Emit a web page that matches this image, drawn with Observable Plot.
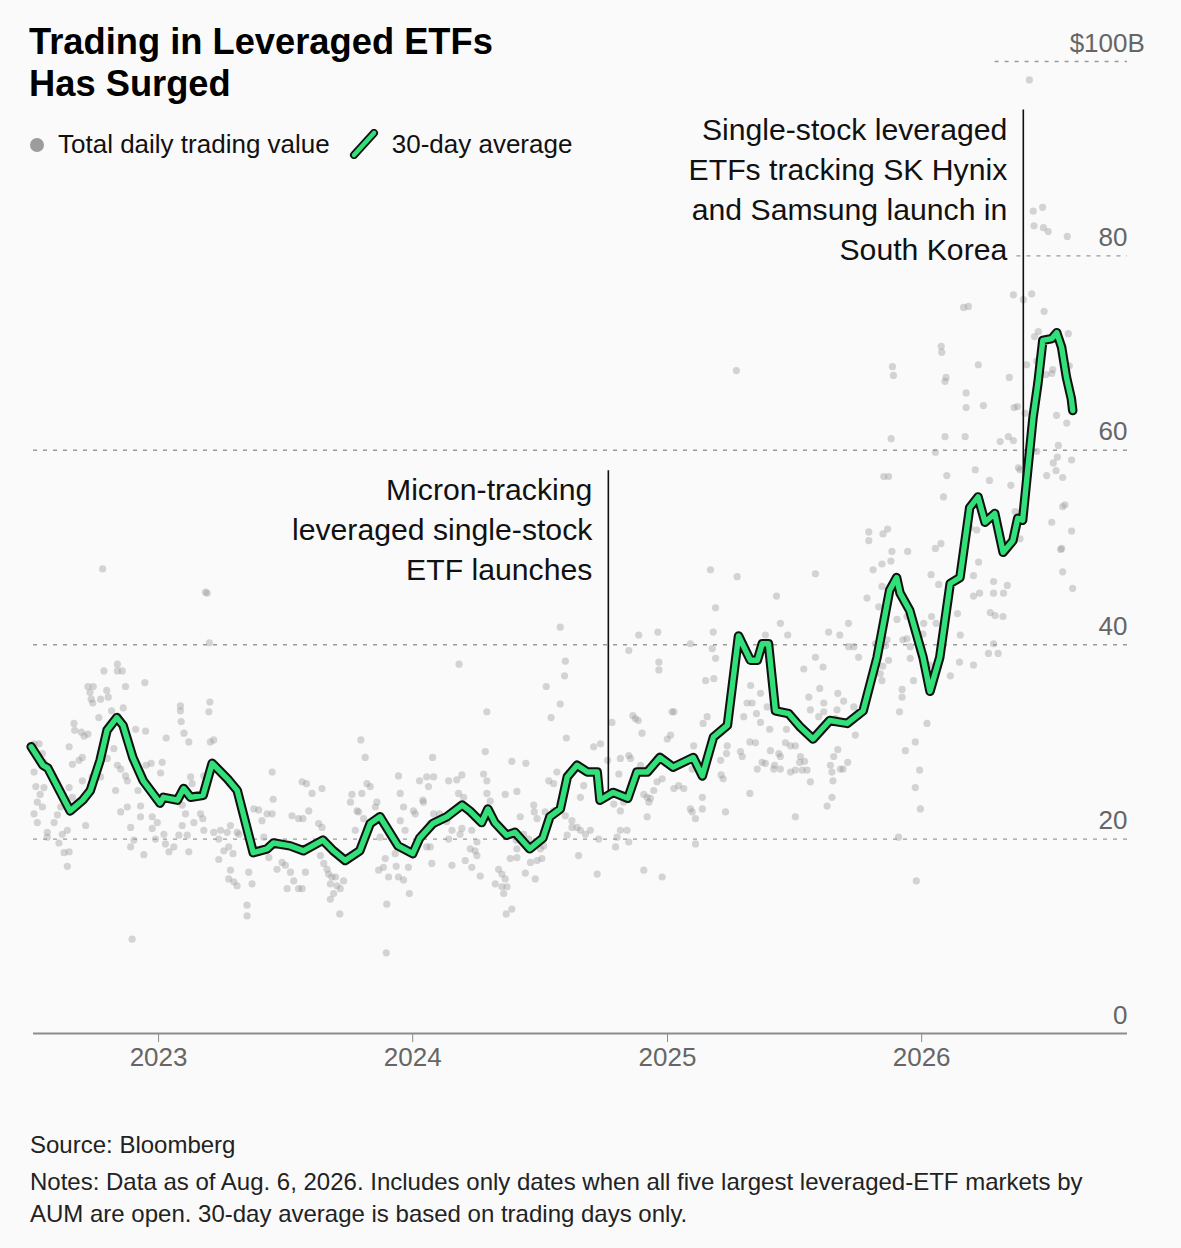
<!DOCTYPE html>
<html><head><meta charset="utf-8">
<script src="https://cdn.jsdelivr.net/npm/d3@7"></script>
<script src="https://cdn.jsdelivr.net/npm/@observablehq/plot@0.6"></script>
<style>
html,body{margin:0;padding:0;background:#fafafa;}
#wrap{position:relative;width:1181px;height:1248px;background:#fafafa;font-family:"Liberation Sans",Arial,Helvetica,sans-serif;overflow:hidden;}
#chart{position:absolute;left:0;top:0;}
.title{position:absolute;left:29px;top:21px;font-size:36.3px;line-height:42px;font-weight:700;color:#000;}
.legend{position:absolute;left:28px;top:129px;font-size:26px;line-height:30px;color:#111;display:flex;align-items:center;white-space:nowrap;}
.legend svg{display:block;}
.source{position:absolute;left:30px;top:1129px;font-size:24px;line-height:32px;color:#222;}
.notes{position:absolute;left:30px;top:1166px;font-size:24px;line-height:32px;color:#222;}
</style></head>
<body>
<div id="wrap">
  <div id="chart"></div>
  <div class="title">Trading in Leveraged ETFs<br>Has Surged</div>
  <div class="legend">
    <svg width="20" height="20"><circle cx="9" cy="11" r="7" fill="#9c9c9c"/></svg>
    <span style="margin-left:10px">Total daily trading value</span>
    <svg width="34" height="30" style="margin-left:18px"><line x1="6" y1="26" x2="26" y2="4" stroke="#111" stroke-width="8" stroke-linecap="round"/><line x1="6" y1="26" x2="26" y2="4" stroke="#32e07a" stroke-width="4.5" stroke-linecap="round"/></svg>
    <span style="margin-left:10px">30-day average</span>
  </div>
  <div class="source">Source: Bloomberg</div>
  <div class="notes">Notes: Data as of Aug. 6, 2026. Includes only dates when all five largest leveraged-ETF markets by<br>AUM are open. 30-day average is based on trading days only.</div>
</div>
<script>
// ---------- data ----------
const yTicks = [0, 20, 40, 60, 80, 100];
const yearTicks = ["2023-01-01", "2024-01-01", "2025-01-01", "2026-01-01"];

// 30-day average (billions of dollars)
const avgDates = ["2022-07-02","2022-07-19","2022-07-26","2022-08-27","2022-09-14","2022-09-25","2022-10-09","2022-10-19","2022-11-02","2022-11-11","2022-11-25","2022-12-10",
"2023-01-03","2023-01-08","2023-01-28","2023-02-06","2023-02-16","2023-03-06","2023-03-19","2023-04-10","2023-04-24","2023-05-17","2023-06-06","2023-06-15","2023-07-09","2023-07-28","2023-08-25","2023-09-09","2023-09-26","2023-10-17","2023-11-01","2023-11-15","2023-12-11",
"2024-01-01","2024-01-11","2024-01-30","2024-02-19","2024-03-12","2024-03-23","2024-04-09","2024-04-18","2024-04-28","2024-05-15","2024-05-27","2024-06-17","2024-07-06","2024-07-16","2024-07-31","2024-08-10","2024-08-24","2024-09-08","2024-09-22","2024-09-26","2024-10-15","2024-11-05","2024-11-18","2024-12-03","2024-12-21",
"2025-01-09","2025-02-07","2025-02-20","2025-03-08","2025-03-28","2025-04-13","2025-04-30","2025-05-10","2025-05-17","2025-05-26","2025-06-05","2025-06-24","2025-07-11","2025-07-29","2025-08-22","2025-09-16","2025-10-09","2025-10-29","2025-11-16","2025-11-26","2025-12-01","2025-12-15",
"2026-01-03","2026-01-13","2026-01-27","2026-02-11","2026-02-25","2026-03-11","2026-03-23","2026-04-02","2026-04-16","2026-04-28","2026-05-12","2026-05-19","2026-05-26","2026-06-10","2026-06-17","2026-06-24","2026-07-07","2026-07-14","2026-07-21","2026-07-28","2026-08-04","2026-08-06"];
const avgValues = [29.5,27.6,27.3,22.9,24.0,25.0,28.1,31.2,32.5,31.7,28.4,26.0,
23.7,24.3,24.0,25.2,24.3,24.5,27.8,26.2,25.0,18.6,19.0,19.6,19.3,18.8,19.9,18.8,17.8,18.8,21.6,22.3,19.3,
18.5,20.1,21.6,22.3,23.5,22.9,21.7,23.1,21.7,20.4,20.7,19.0,20.1,22.3,23.1,26.4,27.6,26.9,26.9,24.0,24.8,24.2,26.9,26.9,28.4,
27.4,28.4,26.5,30.5,31.7,40.9,38.4,38.4,40.1,40.1,33.2,32.9,31.5,30.3,32.2,31.9,33.2,38.7,45.6,46.9,45.3,43.5,
38.7,35.2,38.7,46.3,46.9,54.1,55.2,52.6,53.5,49.5,50.7,53.0,52.8,63.4,66.9,71.3,71.5,72.1,70.6,67.5,65.3,64.1];

// total daily trading value: [decimal year, $B]
const dailyPoints = [
[2022.785,37.3],[2022.838,38.0],[2022.838,37.3],[2022.857,37.3],[2022.722,35.7],[2022.743,35.7],[2022.730,35.1],[2022.735,34.4],[2022.741,34.0],[2022.772,34.4],[2022.796,35.3],[2022.802,34.6],[2022.870,35.7],[2022.946,36.1],[2022.815,33.2],[2022.861,33.5],[2022.765,32.5],[2022.667,31.9],[2022.670,31.2],[2022.696,31.0],[2022.722,30.8],[2022.707,30.6],[2022.648,29.5],[2022.661,27.7],[2022.687,28.1],[2022.700,28.4],[2022.510,29.8],[2022.530,29.8],[2022.543,28.8],[2022.549,27.9],[2022.510,26.9],[2022.517,25.4],[2022.549,25.3],[2022.534,24.6],[2022.523,23.8],[2022.543,23.3],[2022.510,22.6],[2022.523,21.7],[2022.562,20.7],[2022.589,21.7],[2022.602,22.5],[2022.615,23.3],[2022.648,25.3],[2022.661,24.3],[2022.621,20.5],[2022.641,20.9],[2022.608,19.6],[2022.628,18.6],[2022.648,18.7],[2022.641,17.2],[2022.562,20.2],[2022.713,21.4],[2022.700,26.0],[2022.739,26.4],[2022.772,26.4],[2022.824,29.3],[2022.798,28.3],[2022.838,27.6],[2022.851,27.2],[2022.870,26.5],[2022.877,26.0],[2022.831,25.0],[2022.877,23.3],[2022.851,22.8],[2022.910,31.3],[2022.949,31.1],[2022.951,27.6],[2022.971,27.8],[2023.014,27.9],[2023.008,26.8],[2023.030,30.4],[2022.919,25.0],[2022.929,23.4],[2022.890,21.2],[2022.929,22.3],[2022.975,22.3],[2022.995,21.7],[2022.975,21.1],[2022.903,19.9],[2022.890,19.2],[2022.942,18.4],[2022.988,20.0],[2023.021,20.5],[2023.041,18.7],[2023.027,19.5],[2023.060,19.2],[2023.093,21.4],[2023.080,20.4],[2023.106,22.6],[2023.093,23.5],[2023.086,33.7],[2023.086,33.2],[2023.089,32.1],[2023.100,30.9],[2023.119,30.0],[2023.202,34.1],[2023.198,33.1],[2023.217,30.2],[2023.204,30.0],[2023.126,26.4],[2023.132,25.7],[2023.178,26.5],[2023.165,22.6],[2023.174,22.1],[2023.139,21.7],[2023.113,20.4],[2023.119,18.7],[2023.178,20.9],[2023.217,20.7],[2023.237,20.0],[2023.237,17.9],[2023.244,20.9],[2023.270,20.7],[2023.283,21.4],[2023.309,20.7],[2023.316,20.5],[2023.276,19.2],[2023.257,18.8],[2023.293,18.5],[2023.283,16.8],[2023.276,15.9],[2023.296,15.6],[2023.309,15.2],[2023.355,16.6],[2023.368,15.4],[2023.348,13.2],[2023.348,12.1],[2023.375,23.1],[2023.394,23.0],[2023.407,21.9],[2023.427,22.6],[2023.447,22.6],[2023.447,26.9],[2023.451,24.1],[2023.414,20.2],[2023.434,18.1],[2023.466,16.9],[2023.486,17.6],[2023.499,17.3],[2023.519,16.6],[2023.506,14.9],[2023.532,15.7],[2023.551,14.9],[2023.565,14.9],[2023.578,16.6],[2023.525,22.4],[2023.551,22.1],[2023.568,22.1],[2023.565,25.9],[2023.582,25.7],[2023.604,24.7],[2023.643,25.2],[2023.591,22.9],[2023.630,21.6],[2023.643,21.2],[2023.637,18.3],[2023.650,17.5],[2023.663,16.9],[2023.669,16.4],[2023.682,16.1],[2023.696,16.1],[2023.676,15.4],[2023.702,15.2],[2023.715,14.9],[2023.689,14.4],[2023.676,13.8],[2023.713,12.3],[2023.728,15.7],[2023.755,18.1],[2023.755,23.8],[2023.761,24.6],[2023.796,30.2],[2023.813,28.4],[2023.800,24.7],[2023.820,25.7],[2023.833,25.4],[2023.781,22.9],[2023.807,22.1],[2023.787,22.8],[2023.774,20.9],[2023.859,23.8],[2023.853,23.3],[2023.872,20.2],[2023.866,16.8],[2022.896,9.7],
[2022.780,47.8],[2023.185,45.4],[2023.191,45.3],[2023.200,40.2],[2023.896,8.3],
[2024.579,41.8],[2024.599,38.3],[2024.596,36.8],[2024.524,35.7],[2024.579,33.9],[2024.543,32.5],[2024.603,30.4],[2024.291,33.1],[2024.182,38.0],[2024.078,28.4],[2024.285,29.0],[2024.389,28.0],[2024.444,27.8],[2024.027,26.0],[2024.055,26.4],[2024.082,26.4],[2024.062,25.4],[2024.141,26.0],[2024.173,26.1],[2024.193,26.6],[2024.180,24.7],[2024.200,24.3],[2024.278,26.7],[2024.291,26.0],[2024.291,24.7],[2024.304,23.9],[2024.363,24.6],[2024.409,24.9],[2024.422,22.3],[2024.477,22.8],[2024.534,26.0],[2024.553,25.7],[2024.566,26.9],[2024.475,23.5],[2024.042,23.8],[2024.040,24.0],[2024.010,22.6],[2023.951,24.7],[2023.944,26.5],[2023.964,23.3],[2024.003,22.9],[2024.082,22.6],[2024.105,22.6],[2024.069,21.6],[2024.134,22.3],[2024.154,20.9],[2024.141,20.0],[2024.186,20.5],[2024.193,21.1],[2024.232,20.9],[2024.252,19.7],[2024.245,18.8],[2024.232,17.1],[2024.265,16.2],[2024.252,18.3],[2024.226,19.0],[2024.206,17.8],[2024.134,21.8],[2024.154,17.3],[2024.075,17.5],[2024.055,19.2],[2024.069,19.2],[2024.036,20.5],[2023.951,21.9],[2023.970,20.9],[2023.931,18.5],[2023.935,17.2],[2023.885,17.1],[2023.892,18.0],[2023.905,16.1],[2023.898,13.3],[2023.944,16.1],[2023.964,15.8],[2023.983,17.1],[2023.987,14.4],[2024.337,16.9],[2024.324,15.4],[2024.350,16.4],[2024.363,15.9],[2024.370,15.1],[2024.357,14.4],[2024.350,15.1],[2024.383,18.0],[2024.409,18.1],[2024.389,12.8],[2024.367,12.3],[2024.406,19.9],[2024.422,19.9],[2024.409,19.0],[2024.442,16.5],[2024.481,15.9],[2024.462,17.6],[2024.488,17.8],[2024.501,19.0],[2024.514,19.3],[2024.507,18.0],[2024.435,20.5],[2024.455,20.0],[2024.520,22.8],[2024.488,22.1],[2024.553,22.9],[2024.599,22.4],[2024.625,21.9],[2024.625,21.2],[2024.645,21.2],[2024.658,20.9],[2024.678,20.5],[2024.697,20.9],[2024.651,18.3],[2024.606,20.4],[2024.658,24.3],[2024.671,25.5],[2024.710,29.5],[2024.737,29.8],[2024.765,28.1],[2024.730,20.0],[2024.796,19.2],[2024.802,20.2],[2024.815,20.9],[2024.841,20.9],[2024.848,19.7],[2024.815,22.9],[2024.828,23.8],[2024.789,23.6],[2024.782,32.0],[2024.724,16.4],[2024.848,39.4],[2024.887,41.0],[2024.962,41.3],[2024.864,32.7],[2024.874,32.4],[2024.885,32.2],[2024.900,30.9],[2024.815,28.3],[2024.848,28.6],[2024.855,28.3],[2024.809,26.7],[2024.894,27.6],[2024.920,27.2],[2024.966,38.2],[2024.966,37.4],[2025.018,33.1],[2025.025,33.1],[2025.012,30.7],[2024.999,30.3],[2025.103,29.6],[2025.097,27.2],[2025.025,25.2],[2025.044,25.5],[2025.064,25.2],[2024.946,25.0],[2024.907,24.6],[2024.920,24.3],[2024.933,24.2],[2024.927,23.8],[2024.920,22.3],[2024.959,25.9],[2024.979,26.2],[2025.090,23.1],[2025.097,22.8],[2025.110,22.1],[2025.110,19.5],[2024.907,16.8],[2024.979,16.1],[2025.090,40.1],
[2026.054,59.8],[2026.211,58.0],[2026.099,57.4],[2026.267,56.9],[2025.851,57.3],[2025.870,57.3],[2026.086,55.2],[2026.191,52.0],[2026.217,51.8],[2025.792,51.6],[2025.792,50.7],[2025.848,51.4],[2025.866,51.9],[2025.883,49.6],[2025.945,49.6],[2025.879,48.6],[2025.844,48.3],[2025.809,47.7],[2025.169,47.7],[2025.274,47.0],[2025.582,47.3],[2025.429,45.0],[2025.189,43.8],[2025.785,44.8],[2025.844,46.0],[2025.831,43.9],[2026.037,47.2],[2026.067,46.2],[2026.054,49.9],[2026.076,50.4],[2026.204,47.1],[2026.224,48.5],[2026.283,46.5],[2026.283,45.3],[2026.204,45.0],[2026.228,45.3],[2026.270,43.3],[2026.289,43.0],[2025.903,42.6],[2025.942,42.9],[2025.926,40.5],[2025.942,40.6],[2026.005,41.1],[2026.008,42.2],[2026.039,42.9],[2026.057,42.2],[2025.955,39.8],[2025.955,38.6],[2025.864,40.5],[2025.870,38.4],[2025.818,40.1],[2025.822,38.2],[2025.858,39.9],[2025.847,37.8],[2025.837,37.0],[2025.444,42.2],[2025.473,41.0],[2025.634,41.3],[2025.678,41.0],[2025.712,42.2],[2025.713,39.8],[2025.733,39.8],[2025.752,38.7],[2025.582,38.7],[2025.612,37.7],[2025.536,37.5],[2025.385,41.0],[2025.180,41.3],[2025.176,39.6],[2025.189,38.6],[2025.182,36.5],[2025.150,36.3],[2025.156,32.6],[2025.140,31.9],[2025.235,29.6],[2025.232,28.8],[2025.209,28.1],[2025.219,26.2],[2025.211,26.6],[2025.300,32.6],[2025.313,34.0],[2025.333,34.0],[2025.350,32.9],[2025.327,35.8],[2025.366,35.0],[2025.366,32.0],[2025.392,33.6],[2025.402,31.3],[2025.324,30.0],[2025.346,29.9],[2025.287,29.0],[2025.294,28.5],[2025.405,29.1],[2025.438,28.8],[2025.444,28.5],[2025.421,27.6],[2025.372,27.9],[2025.385,27.8],[2025.353,27.2],[2025.444,27.2],[2025.418,27.2],[2025.464,29.9],[2025.484,29.6],[2025.503,29.6],[2025.484,26.9],[2025.503,27.1],[2025.523,28.5],[2025.520,27.9],[2025.539,28.0],[2025.549,27.1],[2025.562,25.9],[2025.530,27.1],[2025.468,31.3],[2025.556,34.6],[2025.599,35.5],[2025.562,33.3],[2025.595,32.6],[2025.615,33.1],[2025.615,34.0],[2025.670,35.0],[2025.693,34.2],[2025.733,33.6],[2025.739,30.7],[2025.667,33.3],[2025.661,32.4],[2025.670,29.2],[2025.654,28.5],[2025.641,27.6],[2025.647,26.9],[2025.680,27.2],[2025.691,27.2],[2025.709,27.9],[2025.651,26.0],[2025.647,24.3],[2025.628,23.4],[2025.324,24.7],[2025.228,22.8],[2025.503,22.3],[2025.137,24.3],[2025.137,23.1],[2026.021,31.9],[2025.975,30.0],[2025.936,29.1],[2025.992,27.1],[2025.975,25.3],[2025.995,23.1],[2025.909,20.2],[2025.979,15.7],[2025.913,33.1],[2025.923,35.4],[2025.923,34.6],[2025.968,36.3],[2026.031,37.9],[2026.113,36.8],[2026.149,38.2],[2026.152,41.0],[2026.204,37.9],[2026.283,40.1],[2026.263,39.1],[2026.141,43.2],[2025.844,36.3],
[2026.165,74.7],[2026.184,74.8],[2026.077,70.7],[2026.079,70.1],[2025.885,68.6],[2025.889,67.7],[2026.223,68.8],[2026.096,67.5],[2026.092,67.1],[2026.175,65.9],[2026.175,64.4],[2026.243,64.6],[2025.880,61.2],[2026.092,61.4],[2026.171,61.4],[2026.309,60.9],
[2026.361,76.0],[2026.400,75.5],[2026.433,76.1],[2026.482,74.3],[2026.459,72.2],[2026.444,71.7],[2026.577,72.0],[2026.413,68.8],[2026.453,69.2],[2026.345,67.5],[2026.581,68.7],[2026.516,68.3],[2026.512,67.9],[2026.489,67.8],[2026.377,64.5],[2026.364,64.4],[2026.407,63.8],[2026.531,63.6],[2026.571,62.8],[2026.341,61.4],[2026.361,61.0],[2026.453,59.9],[2026.538,60.5],[2026.518,58.7],[2026.590,59.0],[2026.534,59.3],[2026.381,58.2],[2026.387,58.0],[2026.492,57.4],[2026.529,57.9],[2026.555,57.2],[2026.351,56.4],[2026.564,54.4],[2026.555,54.2],[2026.368,53.7],[2026.512,52.6],[2026.590,51.7],[2026.387,50.9],[2026.551,49.9],[2026.547,49.8],[2026.555,47.5],[2026.594,45.8],[2026.337,46.1],[2026.322,45.3],
[2026.424,98.1],[2026.439,84.6],[2026.476,85.0],[2026.442,83.1],[2026.479,82.9],[2026.498,82.5],[2026.573,82.0],
[2026.320,42.9],[2026.301,39.1],[2025.271,68.2]
];

// annotations
const annotationDates = ["2024-10-08", "2026-05-27"];
const annotationTops = [57.9, 95];
const annotationBottoms = [24.3, 52.8];
const annotationLabels = [
  "Micron-tracking\nleveraged single-stock\nETF launches",
  "Single-stock leveraged\nETFs tracking SK Hynix\nand Samsung launch in\nSouth Korea"
];

// ---------- build ----------
const fromYear = t => {
  const y = Math.floor(t);
  const s = Date.UTC(y, 0, 1), e = Date.UTC(y + 1, 0, 1);
  return new Date(s + (t - y) * (e - s));
};
const xDomain = [fromYear(2022.5), fromYear(2026.81)];
const dots = dailyPoints.map(([t, v]) => ({date: fromYear(t), value: v}));
const avg = avgDates.map((d, i) => ({date: new Date(d), value: avgValues[i]}));
const annots = annotationDates.map((d, i) => ({date: new Date(d), top: annotationTops[i], bottom: annotationBottoms[i], label: annotationLabels[i]}));
const years = yearTicks.map(d => new Date(d));
// where each dashed gridline begins (upper ones are hidden behind the header/annotation)
const gridStart = {80: fromYear(2026.375), 100: fromYear(2026.289)};

const GREEN = "#32e07a";
const chart = Plot.plot({
  width: 1181,
  height: 1100,
  marginTop: 61,
  marginBottom: 67,
  marginLeft: 31,
  marginRight: 54,
  style: {background: "transparent", fontFamily: "'Liberation Sans', Arial, sans-serif", overflow: "visible"},
  x: {type: "utc", domain: xDomain, axis: null},
  y: {domain: [0, 100], axis: null},
  marks: [
    Plot.ruleY(yTicks.filter(d => d > 0), {
      y: d => d, x1: d => gridStart[d] || fromYear(2022.508), x2: xDomain[1],
      stroke: "#9a9a9a", strokeWidth: 1.4, strokeDasharray: "4,6"
    }),
    Plot.dot(dots, {x: "date", y: "value", r: 3.6, fill: "#999", fillOpacity: 0.4, stroke: "none"}),
    Plot.ruleY([0], {x1: fromYear(2022.508), x2: xDomain[1], stroke: "#8c8c8c", strokeWidth: 2}),
    Plot.axisX({ticks: years, tickFormat: "%Y", tickSize: 9, tickPadding: 5, fontSize: 26, color: "#666", stroke: "#8c8c8c"}),
    Plot.text(yTicks, {y: d => d, text: d => d === 100 ? "$100" : String(d), frameAnchor: "right", textAnchor: "end", lineAnchor: "bottom", dy: -10, fontSize: 26, fill: "#666"}),
    Plot.text([100], {y: d => d, text: () => "B", frameAnchor: "right", textAnchor: "start", lineAnchor: "bottom", dy: -10, fontSize: 26, fill: "#666"}),
    Plot.ruleX(annots, {x: "date", y1: "bottom", y2: "top", stroke: "#111", strokeWidth: 1.6}),
    Plot.text(annots, {x: "date", y: "top", text: "label", textAnchor: "end", lineAnchor: "top", dx: -16, dy: 1, fontSize: 30.2, lineHeight: 1.325, fill: "#111"}),
    Plot.line(avg, {x: "date", y: "value", stroke: "#111", strokeWidth: 9.5, strokeLinejoin: "round", strokeLinecap: "round"}),
    Plot.line(avg, {x: "date", y: "value", stroke: GREEN, strokeWidth: 5.4, strokeLinejoin: "round", strokeLinecap: "round"})
  ]
});
document.getElementById("chart").appendChild(chart);
</script>
</body></html>
